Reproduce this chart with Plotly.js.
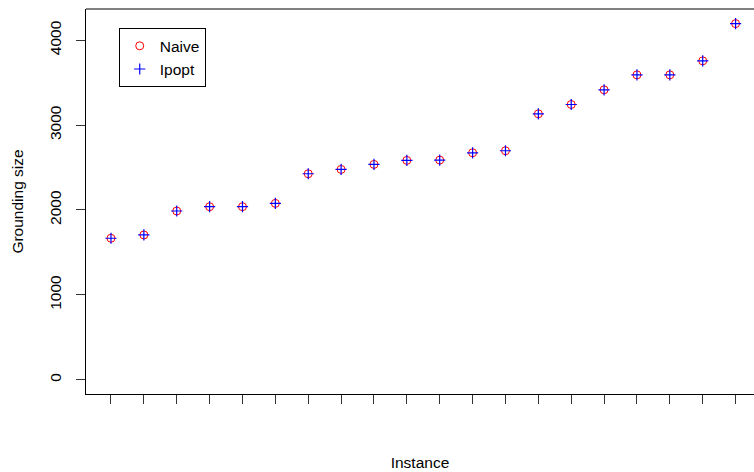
<!DOCTYPE html>
<html>
<head>
<meta charset="utf-8">
<script src="https://cdn.plot.ly/plotly-3.0.1.min.js"></script>
<style>html,body{margin:0;padding:0;background:#fff}#chart{width:754px;height:472px}</style>
</head>
<body>
<div id="chart"></div>
<script>
// Data
const instances = [1,2,3,4,5,6,7,8,9,10,11,12,13,14,15,16,17,18,19,20];
const naive = [1667,1706,1988,2039,2039,2078,2427,2478,2537,2584,2588,2674,2698,3133,3243,3416,3592,3592,3757,4196];
const ipopt = [1667,1706,1988,2039,2039,2078,2427,2478,2537,2584,2588,2674,2698,3133,3243,3416,3592,3592,3757,4196];
const yTicks = [0,1000,2000,3000,4000];

const FONT = "Liberation Sans, Arial, Helvetica, sans-serif";

const traces = [
  {x: instances, y: naive, name: "Naive", type: "scatter", mode: "markers",
   marker: {symbol: "circle-open", size: 8, color: "#ff0000", line: {width: 1, color: "#ff0000"}}},
  {x: instances, y: ipopt, name: "Ipopt", type: "scatter", mode: "markers",
   marker: {symbol: "cross-thin-open", size: 8, color: "#0000ff", line: {width: 1.2, color: "#0000ff"}}}
];

const layout = {
  width: 754, height: 472,
  margin: {l: 86, r: 0, t: 9, b: 78, pad: 0},
  paper_bgcolor: "#fff", plot_bgcolor: "#fff",
  font: {family: FONT, size: 15.5, color: "#000"},
  showlegend: true,
  legend: {x: 0.049, y: 0.95, xanchor: "left", yanchor: "top",
           bordercolor: "#000", borderwidth: 1, bgcolor: "#fff",
           font: {family: FONT, size: 15.5, color: "#000"},
           tracegroupgap: 0, itemwidth: 30},
  xaxis: {range: [0.24, 20.56], tickmode: "array", tickvals: instances, ticktext: instances.map(() => ""),
          ticks: "outside", ticklen: 9, tickwidth: 1, tickcolor: "#333",
          showline: true, linecolor: "#000", linewidth: 1, showgrid: false, zeroline: false,
          title: {text: "Instance", standoff: 51, font: {family: FONT, size: 15.5, color: "#000"}}},
  yaxis: {range: [-168, 4368], tickmode: "array", tickvals: yTicks, ticktext: yTicks.map(String),
          tickangle: -90, ticks: "outside", ticklen: 9, tickwidth: 1, tickcolor: "#333",
          ticklabelstandoff: 9,
          showline: true, linecolor: "#000", linewidth: 1, showgrid: false, zeroline: false,
          tickfont: {family: FONT, size: 15.5, color: "#000"},
          title: {text: "Grounding size", standoff: 19, font: {family: FONT, size: 15.5, color: "#000"}}},
  shapes: [
    {type: "line", xref: "paper", yref: "paper", x0: 0, x1: 1, y0: 1, y1: 1, line: {color: "#000", width: 1}}
  ]
};

Plotly.newPlot("chart", traces, layout, {staticPlot: true, displayModeBar: false});
</script>
</body>
</html>
